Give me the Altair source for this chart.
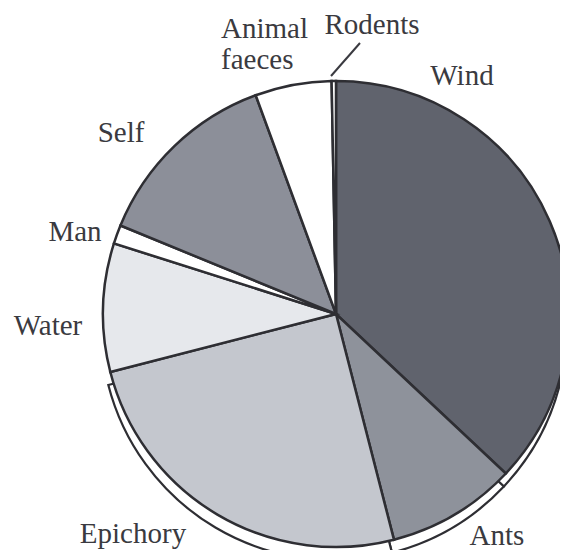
import altair as alt
import pandas as pd

# ---- data (percent share of dispersal modes), clockwise from 12 o'clock ----
categories = ["Wind", "Ants", "Epichory", "Water", "Man", "Self", "Animal faeces", "Rodents"]
shares = [37.0, 9.0, 25.0, 8.9, 1.3, 13.2, 5.3, 0.3]
fills = ["#60636d", "#8e929b", "#c4c7ce", "#e6e8ec", "#ffffff", "#8c8f99", "#ffffff", "#ffffff"]
has_rim = [1, 1, 1, 0, 0, 0, 0, 0]

# ---- label texts ----
label_texts = ["Wind", "Ants", "Epichory", "Water", "Man", "Self", "Animal\nfaeces", "Rodents"]

df = pd.DataFrame({
    "category": categories,
    "share": shares,
    "order": list(range(len(categories))),
    "rim": has_rim,
})

# layout (view pixel coordinates) for the pie and its annotations
CX, CY, R = 328, 306, 233
RIM_DX, RIM_DY = -2, 13
FONT = "Liberation Serif"
label_layout = {
    "Wind": (454, 77, "center"),
    "Ants": (489, 537, "center"),
    "Epichory": (125, 535, "center"),
    "Water": (40, 327, "center"),
    "Man": (67, 233, "center"),
    "Self": (113, 134, "center"),
    "Animal\nfaeces": (213, 30, "left"),
    "Rodents": (364, 26, "center"),
}

color = alt.Color("category:N", scale=alt.Scale(domain=categories, range=fills), legend=None)

rim = alt.Chart(df).mark_arc(
    outerRadius=R, fill="white", stroke="#2e2e33", strokeWidth=2.2
).encode(
    theta=alt.Theta("share:Q", stack=True),
    order=alt.Order("order:Q"),
    opacity=alt.Opacity("rim:Q", scale=alt.Scale(domain=[0, 1], range=[0, 1]), legend=None),
    x=alt.value(CX + RIM_DX),
    y=alt.value(CY + RIM_DY),
)

pie = alt.Chart(df).mark_arc(
    outerRadius=R, stroke="#2e2e33", strokeWidth=2.5
).encode(
    theta=alt.Theta("share:Q", stack=True),
    order=alt.Order("order:Q"),
    color=color,
    x=alt.value(CX),
    y=alt.value(CY),
)

layers = [rim, pie]

for txt in label_texts:
    lx, ly, al = label_layout[txt]
    layers.append(
        alt.Chart(pd.DataFrame({"t": [txt]})).mark_text(
            font=FONT, fontSize=29, color="#3a3a40",
            align=al, baseline="alphabetic", lineBreak="\n", lineHeight=31,
        ).encode(text="t:N", x=alt.value(lx), y=alt.value(ly))
    )

leader = alt.Chart(pd.DataFrame({"a": [0]})).mark_rule(
    color="#3a3a40", strokeWidth=2
).encode(x=alt.value(352), y=alt.value(35), x2=alt.value(323), y2=alt.value(68))
layers.append(leader)

chart = alt.layer(*layers).properties(
    width=552, height=542, autosize="none", padding=0
).configure(font=FONT).configure_text(font=FONT).configure_view(stroke=None)

chart.save("out.html", embed_options={"renderer": "svg", "actions": False})
